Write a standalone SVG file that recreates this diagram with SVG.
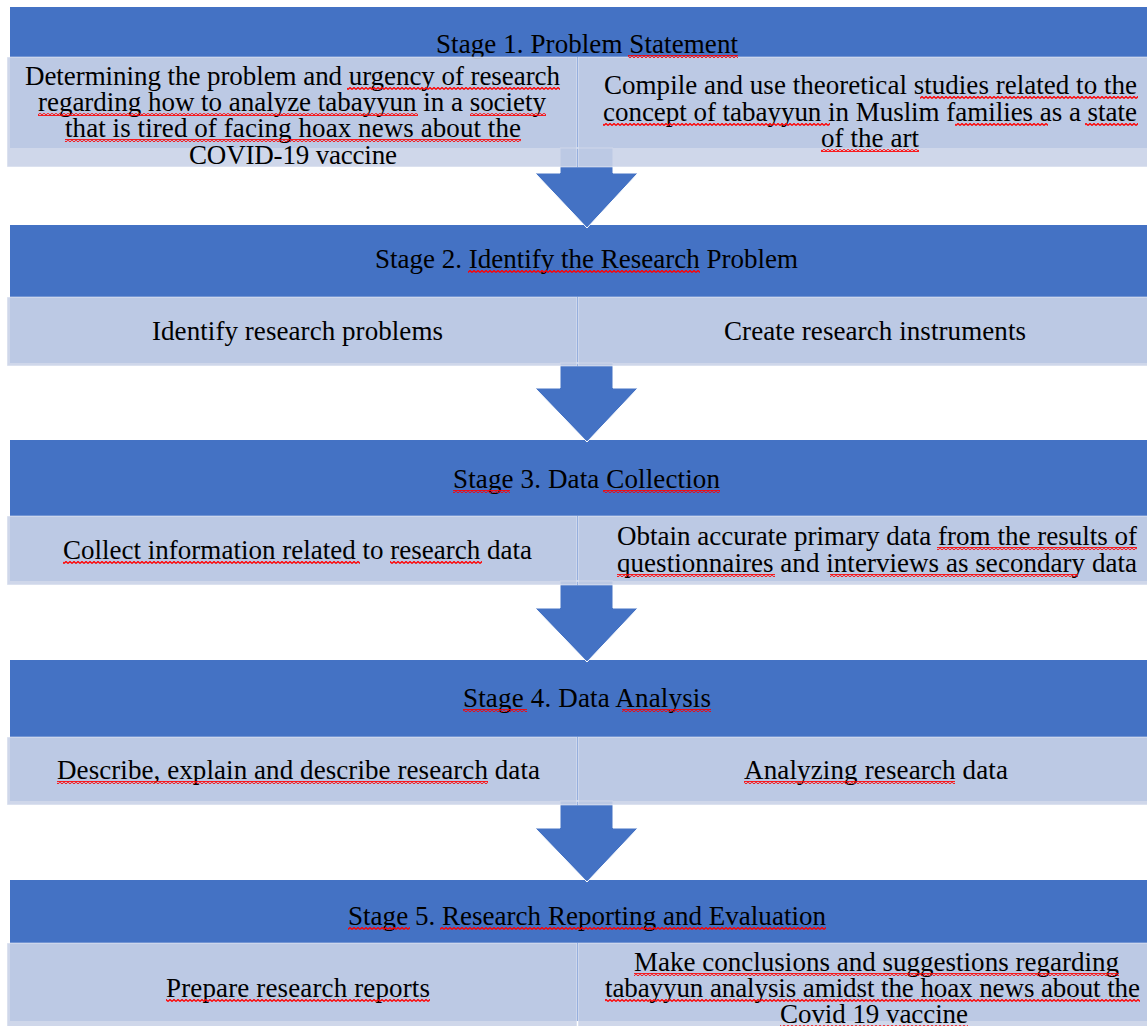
<svg xmlns="http://www.w3.org/2000/svg" width="1147" height="1026" viewBox="0 0 1147 1026">
<defs>
<pattern id="sq" x="0" y="0" width="4" height="3" patternUnits="userSpaceOnUse">
<path d="M0,2.5 L2,0.5 L4,2.5" fill="none" stroke="#FF0000" stroke-width="1.3"/>
</pattern>
<clipPath id="clip1"><rect x="7" y="57" width="570" height="108"/></clipPath>
</defs>
<style>
.hdr{fill:#4472C4}
.sub{fill:#CAD3E8;fill-opacity:0.9;stroke:#FFFFFF;stroke-opacity:0.5;stroke-width:1}
.arr{fill:#4472C4;stroke:#FFFFFF;stroke-width:1}
.sq{fill:url(#sq)}
text{font-family:"Liberation Serif","Times New Roman",serif;font-size:27px;fill:#000000}
</style>
<rect x="0" y="0" width="1147" height="1026" fill="#FFFFFF"/>
<g id="stage1-header"><rect class="hdr" x="10" y="7" width="1154" height="141"/><text x="436" y="53" textLength="302">Stage 1. Problem Statement</text></g>
<g id="stage2-header"><rect class="hdr" x="10" y="225" width="1154" height="138"/><text x="375" y="268" textLength="423">Stage 2. Identify the Research Problem</text></g>
<g id="stage3-header"><rect class="hdr" x="10" y="440" width="1154" height="141"/><text x="453" y="488" textLength="267">Stage 3. Data Collection</text></g>
<g id="stage4-header"><rect class="hdr" x="10" y="660" width="1154" height="141"/><text x="463" y="707" textLength="248">Stage 4. Data Analysis</text></g>
<g id="stage5-header"><rect class="hdr" x="10" y="880" width="1154" height="141"/><text x="348" y="925" textLength="478">Stage 5. Research Reporting and Evaluation</text></g>
<g id="connectors">
<path class="arr" d="M560,148 H613 V173 H638 L587,228 L535,173 H560 Z"/>
<path class="arr" d="M560,363 H613 V388 H638 L587,442 L535,388 H560 Z"/>
<path class="arr" d="M560,581 H613 V608 H638 L587,662 L535,608 H560 Z"/>
<path class="arr" d="M560,801 H613 V828 H638 L587,882 L535,828 H560 Z"/>
</g>
<g id="s1-left"><rect class="sub" x="7" y="57" width="570" height="110"/>
<text x="25" y="85" textLength="535">Determining the problem and urgency of research</text>
<text x="38" y="111" textLength="508">regarding how to analyze tabayyun in a society</text>
<text x="65" y="137" textLength="456">that is tired of facing hoax news about the</text>
<text x="189" y="164" textLength="208" clip-path="url(#clip1)">COVID-19 vaccine</text></g>
<g id="s1-right"><rect class="sub" x="578" y="57" width="590" height="110"/>
<text x="604" y="94" textLength="533">Compile and use theoretical studies related to the</text>
<text x="603" y="121" textLength="534">concept of tabayyun in Muslim families as a state</text>
<text x="821" y="147" textLength="98">of the art</text></g>
<g id="s2-left"><rect class="sub" x="7" y="297" width="570" height="69"/><text x="152" y="340" textLength="291">Identify research problems</text></g>
<g id="s2-right"><rect class="sub" x="578" y="297" width="590" height="69"/><text x="724" y="340" textLength="302">Create research instruments</text></g>
<g id="s3-left"><rect class="sub" x="7" y="516" width="570" height="69"/><text x="63" y="559" textLength="469">Collect information related to research data</text></g>
<g id="s3-right"><rect class="sub" x="578" y="516" width="590" height="69"/>
<text x="617" y="545" textLength="520">Obtain accurate primary data from the results of</text>
<text x="617" y="572" textLength="520">questionnaires and interviews as secondary data</text></g>
<g id="s4-left"><rect class="sub" x="7" y="737" width="570" height="68"/><text x="57" y="779" textLength="483">Describe, explain and describe research data</text></g>
<g id="s4-right"><rect class="sub" x="578" y="737" width="590" height="68"/><text x="744" y="779" textLength="264">Analyzing research data</text></g>
<g id="s5-left"><rect class="sub" x="7" y="943" width="570" height="90"/><text x="166" y="997" textLength="264">Prepare research reports</text></g>
<g id="s5-right"><rect class="sub" x="578" y="943" width="590" height="90"/>
<text x="634" y="971" textLength="485">Make conclusions and suggestions regarding</text>
<text x="605" y="997" textLength="535">tabayyun analysis amidst the hoax news about the</text>
<text x="780" y="1023" textLength="188">Covid 19 vaccine</text></g>
<g id="spellcheck-marks">
<rect class="sq" x="628" y="55" width="110" height="3"/>
<rect class="sq" x="347" y="87" width="213" height="3"/>
<rect class="sq" x="38" y="113" width="380" height="3"/>
<rect class="sq" x="470" y="113" width="76" height="3"/>
<rect class="sq" x="65" y="139" width="456" height="3"/>
<rect class="sq" x="920" y="96" width="218" height="3"/>
<rect class="sq" x="603" y="123" width="227" height="3"/>
<rect class="sq" x="955" y="123" width="93" height="3"/>
<rect class="sq" x="1085" y="123" width="53" height="3"/>
<rect class="sq" x="821" y="149" width="98" height="3"/>
<rect class="sq" x="468" y="270" width="232" height="3"/>
<rect class="sq" x="453" y="490" width="57" height="3"/>
<rect class="sq" x="603" y="490" width="117" height="3"/>
<rect class="sq" x="63" y="561" width="297" height="3"/>
<rect class="sq" x="390" y="561" width="92" height="3"/>
<rect class="sq" x="937" y="547" width="200" height="3"/>
<rect class="sq" x="617" y="574" width="158" height="3"/>
<rect class="sq" x="830" y="574" width="248" height="3"/>
<rect class="sq" x="463" y="709" width="64" height="3"/>
<rect class="sq" x="622" y="709" width="89" height="3"/>
<rect class="sq" x="57" y="781" width="431" height="3"/>
<rect class="sq" x="744" y="781" width="211" height="3"/>
<rect class="sq" x="348" y="927" width="62" height="3"/>
<rect class="sq" x="440" y="927" width="386" height="3"/>
<rect class="sq" x="166" y="999" width="264" height="3"/>
<rect class="sq" x="634" y="973" width="485" height="3"/>
<rect class="sq" x="605" y="999" width="535" height="3"/>
<rect class="sq" x="780" y="1025" width="188" height="3"/>
</g>
</svg>
